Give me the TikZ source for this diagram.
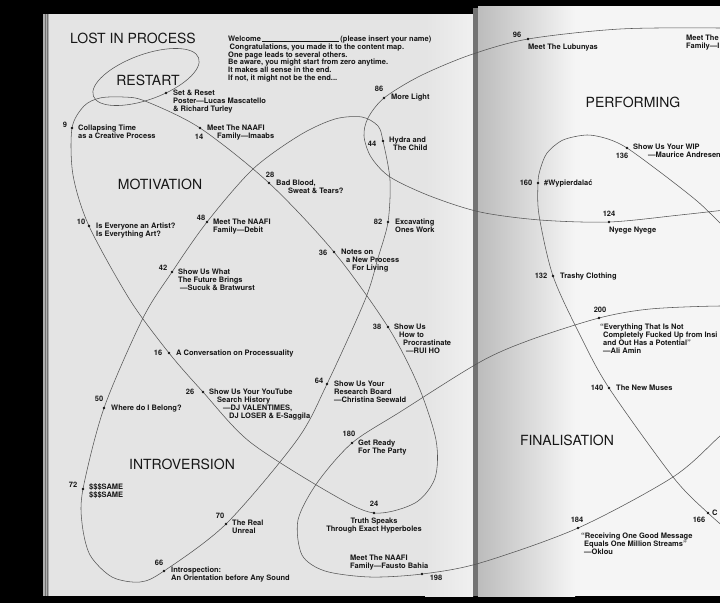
\documentclass[tikz,border=0pt]{standalone}
\usepackage{fontspec}
\setmainfont{TeX Gyre Heros}
\usetikzlibrary{positioning}
\definecolor{pagegray}{RGB}{228,228,228}
\definecolor{paperwhite}{RGB}{245,245,245}
\definecolor{shadowgray}{RGB}{188,188,188}
\definecolor{spinelight}{RGB}{240,240,240}
\definecolor{spinedark}{RGB}{115,115,115}
\definecolor{edgegray}{RGB}{175,175,175}
\definecolor{loopgray}{RGB}{85,85,85}
\definecolor{inkblack}{RGB}{22,22,22}
\tikzset{
  itemdot/.style={circle, fill=inkblack, inner sep=0pt, minimum size=2.6pt},
  itemnum/.style={font=\fontsize{7.5}{7.9}\selectfont\bfseries,
    text=inkblack, inner sep=0pt},
  itemtext/.style={font=\fontsize{7.5}{7.9}\selectfont\bfseries,
    text=inkblack, inner sep=0pt, align=left, anchor=north west},
  sectiontitle/.style={font=\fontsize{14}{16}\selectfont,
    text=inkblack, inner sep=0pt},
  loopline/.style={draw=loopgray, line width=0.55pt},
}
\begin{document}
\begin{tikzpicture}[x=1pt, y=-1pt]
  \useasboundingbox (0,0) rectangle (720,603);
  \clip (0,0) rectangle (720,603);

  %% Spread
  \fill[black] (0,0) rectangle (720,603);
  \fill[pagegray] (44,14) rectangle (473,596);
  \fill[edgegray] (43,14) rectangle (49,596);
  \draw[spinedark, line width=0.4pt] (45,14) -- (45,596) (47.5,14) -- (47.5,596);
  \shade[left color=pagegray, right color=spinelight] (425,14) rectangle (473,596);
  \fill[paperwhite] (478,6) rectangle (720,596);
  \shade[left color=shadowgray, right color=paperwhite] (478,6) rectangle (575,596);
  \fill[spinedark] (473,8) rectangle (478,596);

  %% Item points
  \coordinate (pSet) at (166,93);
  \coordinate (p9) at (72,128);
  \coordinate (p14) at (200,128);
  \coordinate (p28) at (269,183);
  \coordinate (p10) at (89,226);
  \coordinate (p48) at (207,222);
  \coordinate (p36) at (334,252);
  \coordinate (p42) at (172,272);
  \coordinate (p16) at (169,353);
  \coordinate (p26) at (203,392);
  \coordinate (p50) at (104,408);
  \coordinate (p64) at (327,384);
  \coordinate (p38) at (388,327);
  \coordinate (p82) at (388,222);
  \coordinate (p44) at (383,141);
  \coordinate (p86) at (384,98);
  \coordinate (p180) at (352,443);
  \coordinate (p72) at (83,489);
  \coordinate (p70) at (226,524);
  \coordinate (p24) at (374,513);
  \coordinate (p66) at (164,571);
  \coordinate (p198) at (422,574);
  \coordinate (p96) at (528,39);
  \coordinate (p160) at (538,183);
  \coordinate (p136) at (627,148);
  \coordinate (p124) at (609,222);
  \coordinate (p132) at (553,276);
  \coordinate (p200) at (599,318);
  \coordinate (p140) at (609,388);
  \coordinate (p184) at (578,528);
  \coordinate (p166) at (708,513);

  %% Loops
  \draw[loopline, rotate around={20:(146,77)}] (146,77) ellipse [x radius=56pt, y radius=22.5pt];
  \draw[loopline] plot[smooth cycle] coordinates {(p9) (84,106) (100,98) (123,97)
    (145,101) (p14) (p28) (p36) (p38) (418,385) (436,440) (435,478) (415,503)
    (p24) (330,493) (250,442) (p26) (p16) (130,300) (p10) (73,175)};
  \draw[loopline] plot[smooth cycle] coordinates {(p72) (p50) (143,318) (p42) (p48)
    (253,169) (300,135) (335,119) (362,117) (378,126) (p44) (390,180) (p82)
    (378,258) (365,300) (p64) (297,440) (p70) (p66) (140,582) (112,577) (90,555) (82,523)};
  \draw[loopline] plot[smooth] coordinates {(760,308) (720,306) (650,309) (p200)
    (530,340) (480,362) (400,412) (p180) (317,483) (298,520) (302,555) (325,571)
    (370,577) (p198) (480,563) (p184) (673,477) (720,436) (760,400)};
  \draw[loopline] plot[smooth] coordinates {(760,30) (720,28) (620,29) (p96)
    (470,55) (420,76) (p86) (368,118) (364,136) (371,157) (390,177) (430,196)
    (480,212) (540,220) (p124) (680,215) (760,206)};
  \draw[loopline] plot[smooth] coordinates {(760,262) (720,223) (697,201) (660,172)
    (p136) (608,139) (587,135) (563,140) (547,153) (540,170) (p160) (539,215)
    (p132) (580,335) (p140) (673,477) (p166) (745,545)};

  %% Titles
  \node[sectiontitle] (lost) at (133,38) {LOST IN PROCESS};
  \node[sectiontitle] (restart) at (148,80) {RESTART};
  \node[sectiontitle] (motivation) at (160,184) {MOTIVATION};
  \node[sectiontitle] (introversion) at (182,464) {INTROVERSION};
  \node[sectiontitle] (performing) at (633,102) {PERFORMING};
  \node[sectiontitle] (finalisation) at (567,440) {FINALISATION};

  \node[itemtext] (welcome) at (228,35.5) {Welcome\,\rule[-0.4pt]{77pt}{0.4pt}\,(please insert your name)\\
    \hspace*{1.5pt}Congratulations, you made it to the content map.\\
    One page leads to several others.\\
    Be aware, you might start from zero anytime.\\
    It makes all sense in the end.\\
    If not, it might not be the end...};

  %% Left page items
  \node[itemdot] (dSet) at (pSet) {};
  \node[itemtext] (tSet) at (173,90) {Set \& Reset\\Poster—Lucas Mascatello\\\& Richard Turley};

  \node[itemdot] (d9) at (p9) {};
  \node[itemnum] (n9) at (65,125) {9};
  \node[itemtext] (t9) at (78,125) {Collapsing Time\\as a Creative Process};

  \node[itemdot] (d14) at (p14) {};
  \node[itemnum] (n14) at (199,137) {14};
  \node[itemtext] (t14) at (207,125) {Meet The NAAFI\\\hspace*{10pt}Family—Imaabs};

  \node[itemdot] (d28) at (p28) {};
  \node[itemnum] (n28) at (270,175) {28};
  \node[itemtext] (t28) at (276,180) {Bad Blood,\\\hspace*{12pt}Sweat \& Tears?};

  \node[itemdot] (d10) at (p10) {};
  \node[itemnum] (n10) at (81,222) {10};
  \node[itemtext] (t10) at (96,223) {Is Everyone an Artist?\\Is Everything Art?};

  \node[itemdot] (d48) at (p48) {};
  \node[itemnum] (n48) at (201,218) {48};
  \node[itemtext] (t48) at (213,219) {Meet The NAAFI\\Family—Debit};

  \node[itemdot] (d36) at (p36) {};
  \node[itemnum] (n36) at (323,253) {36};
  \node[itemtext] (t36) at (341,249) {Notes on\\\hspace*{5pt}a New Process\\\hspace*{11pt}For Living};

  \node[itemdot] (d42) at (p42) {};
  \node[itemnum] (n42) at (163,268) {42};
  \node[itemtext] (t42) at (178,269) {Show Us What\\The Future Brings\\\hspace*{2pt}—Sucuk \& Bratwurst};

  \node[itemdot] (d16) at (p16) {};
  \node[itemnum] (n16) at (158,353) {16};
  \node[itemtext] (t16) at (176,350) {A Conversation on Processuality};

  \node[itemdot] (d26) at (p26) {};
  \node[itemnum] (n26) at (190,392) {26};
  \node[itemtext] (t26) at (209,389) {Show Us Your YouTube\\\hspace*{8pt}Search History\\
    \hspace*{14pt}—DJ VALENTIMES,\\\hspace*{20pt}DJ LOSER \& E-Saggila};

  \node[itemdot] (d50) at (p50) {};
  \node[itemnum] (n50) at (99,399) {50};
  \node[itemtext] (t50) at (111,405) {Where do I Belong?};

  \node[itemdot] (d64) at (p64) {};
  \node[itemnum] (n64) at (319,381) {64};
  \node[itemtext] (t64) at (334,381) {Show Us Your\\Research Board\\—Christina Seewald};

  \node[itemdot] (d38) at (p38) {};
  \node[itemnum] (n38) at (377,327) {38};
  \node[itemtext] (t38) at (394,324) {Show Us\\\hspace*{5pt}How to\\\hspace*{9pt}Procrastinate\\\hspace*{12pt}—RUI HO};

  \node[itemdot] (d82) at (p82) {};
  \node[itemnum] (n82) at (378,222) {82};
  \node[itemtext] (t82) at (395,219) {Excavating\\Ones Work};

  \node[itemdot] (d44) at (p44) {};
  \node[itemnum] (n44) at (372,144) {44};
  \node[itemtext] (t44) at (389,137) {Hydra and\\\hspace*{4pt}The Child};

  \node[itemdot] (d86) at (p86) {};
  \node[itemnum] (n86) at (379,89) {86};
  \node[itemtext] (t86) at (391,94) {More Light};

  \node[itemdot] (d180) at (p180) {};
  \node[itemnum] (n180) at (349,434) {180};
  \node[itemtext] (t180) at (358,440) {Get Ready\\For The Party};

  \node[itemdot] (d72) at (p72) {};
  \node[itemnum] (n72) at (73,485) {72};
  \node[itemtext] (t72) at (89,484) {\$\$\$SAME\\\$\$\$SAME};

  \node[itemdot] (d70) at (p70) {};
  \node[itemnum] (n70) at (220,516) {70};
  \node[itemtext] (t70) at (232,520) {The Real\\Unreal};

  \node[itemdot] (d24) at (p24) {};
  \node[itemnum] (n24) at (374,504) {24};
  \node[itemtext, anchor=north, align=center, below=3pt of d24] (t24) {Truth Speaks\\Through Exact Hyperboles};

  \node[itemdot] (d66) at (p66) {};
  \node[itemnum] (n66) at (159,563) {66};
  \node[itemtext] (t66) at (171,567) {Introspection:\\An Orientation before Any Sound};

  \node[itemdot] (d198) at (p198) {};
  \node[itemnum] (n198) at (436,578) {198};
  \node[itemtext] (t198) at (350,555) {Meet The NAAFI\\Family—Fausto Bahia};

  %% Right page items
  \node[itemdot] (d96) at (p96) {};
  \node[itemnum] (n96) at (517,35) {96};
  \node[itemtext] (t96) at (528,44) {Meet The Lubunyas};

  \node[itemtext] (tTop) at (686,35) {Meet The\\Family—I};

  \node[itemdot] (d160) at (p160) {};
  \node[itemnum] (n160) at (526,183) {160};
  \node[itemtext] (t160) at (544,180) {\#Wypierdalać};

  \node[itemdot] (d136) at (p136) {};
  \node[itemnum] (n136) at (622,156) {136};
  \node[itemtext] (t136) at (633,144) {Show Us Your WIP\\\hspace*{15pt}—Maurice Andresen};

  \node[itemdot] (d124) at (p124) {};
  \node[itemnum] (n124) at (609,214) {124};
  \node[itemtext] (t124) at (609,227) {Nyege Nyege};

  \node[itemdot] (d132) at (p132) {};
  \node[itemnum] (n132) at (541,276) {132};
  \node[itemtext] (t132) at (560,273) {Trashy Clothing};

  \node[itemdot] (d200) at (p200) {};
  \node[itemnum] (n200) at (600,310) {200};
  \node[itemtext] (t200) at (600,324) {“Everything That Is Not\\\hspace*{3pt}Completely Fucked Up from Insi\\
    \hspace*{3pt}and Out Has a Potential”\\\hspace*{3pt}—Ali Amin};

  \node[itemdot] (d140) at (p140) {};
  \node[itemnum] (n140) at (597,388) {140};
  \node[itemtext] (t140) at (616,385) {The New Muses};

  \node[itemdot] (d184) at (p184) {};
  \node[itemnum] (n184) at (577,520) {184};
  \node[itemtext] (t184) at (581,533) {“Receiving One Good Message\\\hspace*{3pt}Equals One Million Streams”\\\hspace*{3pt}—Oklou};

  \node[itemdot] (d166) at (p166) {};
  \node[itemnum] (n166) at (699,520) {166};
  \node[itemtext] (t166) at (712,510) {C};

\end{tikzpicture}
\end{document}
